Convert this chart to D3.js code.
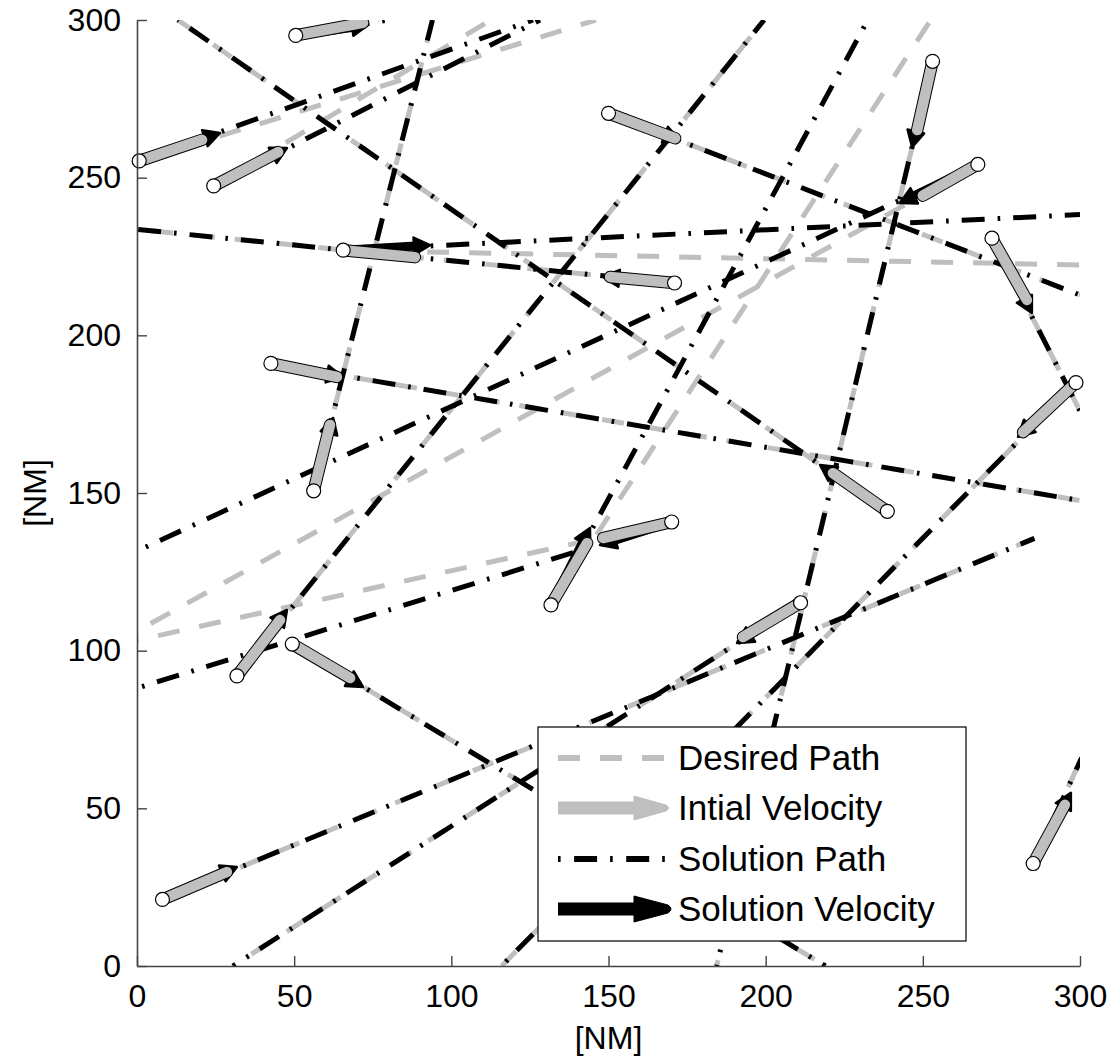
<!DOCTYPE html>
<html>
<head>
<meta charset="utf-8">
<script src="https://cdn.jsdelivr.net/npm/d3@7"></script>
<style>
  html, body { margin: 0; padding: 0; background: #fff; }
  svg { display: block; }
  text { font-family: "Liberation Sans", Arial, Helvetica, sans-serif; }
</style>
</head>
<body>
<svg id="chart" width="1113" height="1060"></svg>
<script>
// ---------------- data (NM) ----------------
const aircraft   = ["A","B","C","D","E","F","G","H","I","J","K","L","M","N","O","P","Q","R","S","T"];
const startX     = [50.5, 0.7, 24.4, 65.6, 150.0, 253.1, 267.5, 272.0, 171.0, 42.6, 56.2, 298.7, 238.7, 170.1, 131.7, 211.1, 31.8, 49.4, 8.1, 285.1];
const startY     = [295.1, 255.3, 247.4, 227.0, 270.4, 286.9, 254.2, 230.8, 216.6, 191.1, 150.7, 185.0, 144.2, 140.8, 114.5, 115.2, 92.0, 102.1, 21.1, 32.5];
// initial velocity vector tips
const initEndX   = [71.9, 20.7, 44.9, 88.4, 171.2, 248.2, 250.0, 283.1, 150.5, 63.6, 61.4, 281.9, 221.4, 148.3, 143.2, 192.8, 45.5, 67.8, 28.6, 295.2];
const initEndY   = [299.1, 262.0, 258.1, 224.8, 262.5, 265.1, 244.3, 211.2, 218.5, 186.8, 171.6, 169.3, 156.3, 135.7, 134.1, 104.3, 109.7, 91.3, 29.8, 51.1];
// solution velocity vector tips
const solVelEndX = [73.5, 26.4, 47.7, 93.2, 172.7, 246.6, 242.7, 284.7, 148.3, 65.5, 62.4, 280.3, 217.3, 147.3, 144.1, 190.9, 47.7, 71.9, 31.8, 297.1];
const solVelEndY = [298.4, 264.2, 259.4, 228.6, 261.8, 259.7, 242.0, 207.1, 218.5, 186.8, 173.8, 167.8, 158.9, 133.5, 138.9, 102.4, 112.9, 88.5, 31.4, 54.9];
// desired path end points
const desiredEndX = [77.0, 146.0, 112.6, 300.0, 300.0, 184.4, 0.0, 300.0, 0.0, 300.0, 94.0, 116.0, 13.0, 0.0, 252.5, 30.5, 199.5, 219.0, 285.5, 300.5];
const desiredEndY = [300.0, 300.0, 300.0, 222.3, 212.8, 0.0, 106.2, 176.0, 233.6, 147.6, 300.0, 0.0, 300.0, 103.3, 300.0, 0.0, 300.0, 0.0, 135.6, 66.0];
// solution path end points
const solutionEndX = [80.0, 126.0, 128.2, 300.0, 300.0, 184.4, 0.0, 300.0, 0.0, 300.0, 94.0, 116.0, 13.0, 0.0, 232.5, 30.5, 199.5, 219.0, 285.5, 300.5];
const solutionEndY = [300.0, 300.0, 300.0, 238.3, 212.8, 0.0, 131.6, 176.0, 233.6, 147.6, 300.0, 0.0, 300.0, 88.1, 300.0, 0.0, 300.0, 0.0, 135.6, 66.0];

const xTicks = [0, 50, 100, 150, 200, 250, 300];
const yTicks = [0, 50, 100, 150, 200, 250, 300];
const xTitle = "[NM]";
const yTitle = "[NM]";
const legendLabels = ["Desired Path", "Intial Velocity", "Solution Path", "Solution Velocity"];

// ---------------- drawing ----------------
const GRAY = "#bfbfbf";
const svg = d3.select("#chart");
const x = d3.scaleLinear().domain([0, 300]).range([137, 1080]);
const y = d3.scaleLinear().domain([0, 300]).range([966, 20]);

svg.append("rect").attr("width", 1113).attr("height", 1060).attr("fill", "#fff");

svg.append("defs").append("clipPath").attr("id", "plotclip")
  .append("rect").attr("x", x(0)).attr("y", y(300))
  .attr("width", x(300) - x(0)).attr("height", y(0) - y(300));

const idx = d3.range(aircraft.length);
const plot = svg.append("g").attr("clip-path", "url(#plotclip)");

// desired paths (gray dashed)
plot.append("g").selectAll("line").data(idx).join("line")
  .attr("x1", i => x(startX[i])).attr("y1", i => y(startY[i]))
  .attr("x2", i => x(desiredEndX[i])).attr("y2", i => y(desiredEndY[i]))
  .attr("stroke", GRAY).attr("stroke-width", 5)
  .attr("stroke-dasharray", "22,20");

// solution paths (black dash-dot)
plot.append("g").selectAll("line").data(idx).join("line")
  .attr("x1", i => x(startX[i])).attr("y1", i => y(startY[i]))
  .attr("x2", i => x(solutionEndX[i])).attr("y2", i => y(solutionEndY[i]))
  .attr("stroke", "#000").attr("stroke-width", 5)
  .attr("stroke-dasharray", "23,13,2.6,13");

// arrowhead helper (pixel space)
function headPoints(x1, y1, x2, y2, len, hw) {
  const dx = x2 - x1, dy = y2 - y1, L = Math.hypot(dx, dy) || 1;
  const ux = dx / L, uy = dy / L, px = -uy, py = ux;
  const bx = x2 - ux * len, by = y2 - uy * len;
  return [[x2, y2], [bx + px * hw, by + py * hw], [bx - px * hw, by - py * hw]];
}

// solution velocity arrows (black)
const solG = plot.append("g");
idx.forEach(i => {
  const x1 = x(startX[i]), y1 = y(startY[i]), x2 = x(solVelEndX[i]), y2 = y(solVelEndY[i]);
  const L = Math.hypot(x2 - x1, y2 - y1), ux = (x2 - x1) / L, uy = (y2 - y1) / L;
  solG.append("line").attr("x1", x1).attr("y1", y1)
    .attr("x2", x2 - ux * 10).attr("y2", y2 - uy * 10)
    .attr("stroke", "#000").attr("stroke-width", 9).attr("stroke-linecap", "round");
  solG.append("polygon").attr("points", headPoints(x1, y1, x2, y2, 16, 8.5).map(p => p.join(",")).join(" "))
    .attr("fill", "#000").attr("stroke", "#000").attr("stroke-width", 2.5).attr("stroke-linejoin", "round");
});

// initial velocity capsules (gray, thin black outline)
const initG = plot.append("g");
initG.selectAll("line.o").data(idx).join("line").attr("class", "o")
  .attr("x1", i => x(startX[i])).attr("y1", i => y(startY[i]))
  .attr("x2", i => x(initEndX[i])).attr("y2", i => y(initEndY[i]))
  .attr("stroke", "#000").attr("stroke-width", 12.5).attr("stroke-linecap", "round");
initG.selectAll("line.g").data(idx).join("line").attr("class", "g")
  .attr("x1", i => x(startX[i])).attr("y1", i => y(startY[i]))
  .attr("x2", i => x(initEndX[i])).attr("y2", i => y(initEndY[i]))
  .attr("stroke", GRAY).attr("stroke-width", 10.5).attr("stroke-linecap", "round");

// start markers
svg.append("g").selectAll("circle").data(idx).join("circle")
  .attr("cx", i => x(startX[i])).attr("cy", i => y(startY[i])).attr("r", 7)
  .attr("fill", "#fff").attr("stroke", "#000").attr("stroke-width", 1.2);

// axes
const axColor = "#444";
const gx = svg.append("g").attr("transform", `translate(0,${y(0)})`)
  .call(d3.axisBottom(x).tickValues(xTicks).tickSize(-10).tickSizeOuter(0).tickPadding(18));
const gy = svg.append("g").attr("transform", `translate(${x(0)},0)`)
  .call(d3.axisLeft(y).tickValues(yTicks).tickSize(-10).tickSizeOuter(0).tickPadding(16));
[gx, gy].forEach(g => {
  g.select(".domain").attr("stroke", axColor).attr("stroke-width", 1.6);
  g.selectAll(".tick line").attr("stroke", axColor).attr("stroke-width", 1.4);
  g.selectAll(".tick text").attr("font-size", 32).attr("fill", "#000")
    .attr("font-family", "'Liberation Sans', Arial, sans-serif");
});

svg.append("text").attr("x", 608.5).attr("y", 1049).attr("text-anchor", "middle")
  .attr("font-size", 32).text(xTitle);
svg.append("text").attr("transform", "translate(46,493) rotate(-90)").attr("text-anchor", "middle")
  .attr("font-size", 32).text(yTitle);

// legend
const lg = svg.append("g");
lg.append("rect").attr("x", 538).attr("y", 727).attr("width", 428).attr("height", 214)
  .attr("fill", "#fff").attr("stroke", "#000").attr("stroke-width", 1.2);
const rowY = [758, 808, 859, 909];
lg.append("line").attr("x1", 558).attr("x2", 668).attr("y1", rowY[0]).attr("y2", rowY[0])
  .attr("stroke", GRAY).attr("stroke-width", 6).attr("stroke-dasharray", "22,20");
// gray arrow
lg.append("rect").attr("x", 558).attr("y", rowY[1] - 6.5).attr("width", 80).attr("height", 13).attr("fill", GRAY);
lg.append("path").attr("d", `M634,${rowY[1] - 12} L666,${rowY[1] - 3} Q671,${rowY[1]} 666,${rowY[1] + 3} L634,${rowY[1] + 12} Z`)
  .attr("fill", GRAY).attr("stroke", GRAY).attr("stroke-width", 1).attr("stroke-linejoin", "round");
lg.append("line").attr("x1", 558).attr("x2", 668).attr("y1", rowY[2]).attr("y2", rowY[2])
  .attr("stroke", "#000").attr("stroke-width", 6).attr("stroke-dasharray", "2.6,13.5,23,13");
// black arrow
lg.append("rect").attr("x", 558).attr("y", rowY[3] - 6.5).attr("width", 80).attr("height", 13).attr("fill", "#000");
lg.append("path").attr("d", `M634,${rowY[3] - 13} L668,${rowY[3] - 4} Q674,${rowY[3]} 668,${rowY[3] + 4} L634,${rowY[3] + 13} Z`)
  .attr("fill", "#000").attr("stroke", "#000").attr("stroke-width", 1).attr("stroke-linejoin", "round");
lg.selectAll("text.lab").data(legendLabels).join("text").attr("class", "lab")
  .attr("x", 678).attr("y", (d, i) => rowY[i] + 12).attr("font-size", 35).attr("fill", "#000")
  .text(d => d);
</script>
</body>
</html>
